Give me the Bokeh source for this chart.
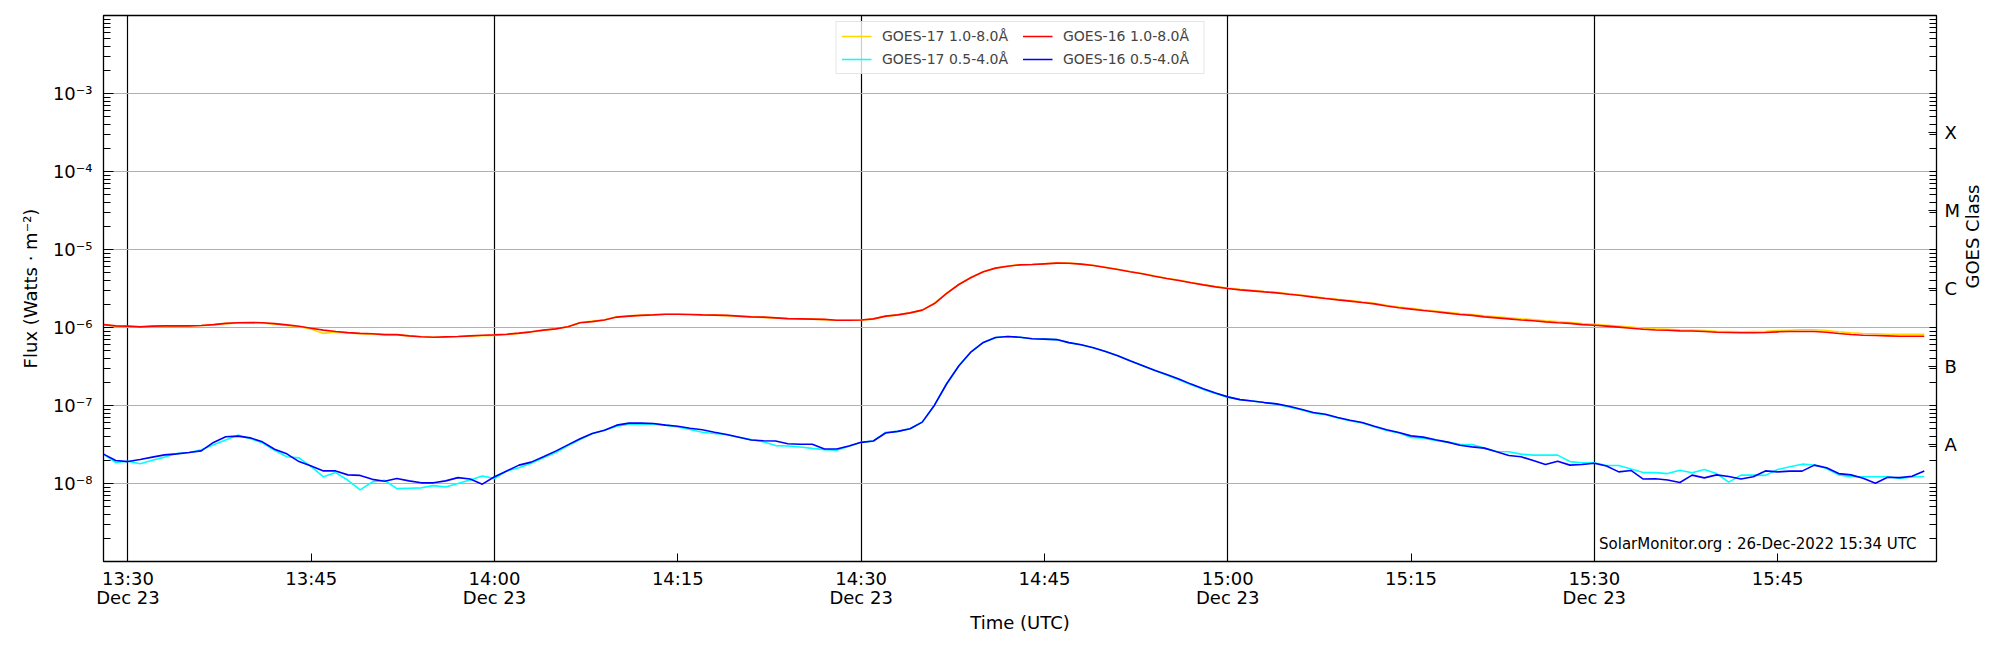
import numpy as np
import pandas as pd
from bokeh.plotting import figure
from bokeh.models import (Range1d, FixedTicker, CustomJSTickFormatter, LogAxis, Legend,
                          LegendItem, Label, ColumnDataSource)
from bokeh.embed import file_html
from bokeh.resources import INLINE

# ---------------- data (1-minute GOES XRS flux, 23 Dec 2022, 13:28 - 15:57 UTC) ----------------
start_time = "2022-12-23 13:28"
n_minutes = 150

# GOES-16 1.0-8.0 A, units of 1e-6 W/m^2
goes16_long_e6 = [
    1.09, 1.05,
    1.04, 1.02, 1.04, 1.05, 1.05, 1.05, 1.06, 1.09, 1.13, 1.15,
    1.16, 1.15, 1.12, 1.08, 1.04, 0.98, 0.925, 0.89, 0.86, 0.84,
    0.83, 0.81, 0.81, 0.78, 0.76, 0.75, 0.759, 0.767, 0.782, 0.797,
    0.805, 0.821, 0.846, 0.88, 0.925, 0.961, 1.02, 1.15, 1.19, 1.25,
    1.36, 1.40, 1.43, 1.45, 1.48, 1.48, 1.47, 1.45, 1.44, 1.43,
    1.40, 1.37, 1.36, 1.33, 1.30, 1.29, 1.28, 1.27, 1.24, 1.24,
    1.25, 1.29, 1.40, 1.45, 1.54, 1.67, 2.03, 2.73, 3.56, 4.38,
    5.18, 5.77, 6.11, 6.36, 6.42, 6.55, 6.68, 6.65, 6.49, 6.24,
    5.88, 5.54, 5.18, 4.88, 4.55, 4.25, 4.01, 3.74, 3.52, 3.32,
    3.16, 3.04, 2.95, 2.86, 2.78, 2.67, 2.57, 2.45, 2.35, 2.26,
    2.18, 2.09, 2.01, 1.89, 1.79, 1.72, 1.65, 1.59, 1.53, 1.47,
    1.43, 1.37, 1.33, 1.29, 1.25, 1.22, 1.18, 1.15, 1.13, 1.09,
    1.07, 1.04, 1.01, 0.98, 0.95, 0.93, 0.92, 0.906, 0.90, 0.89,
    0.871, 0.863, 0.855, 0.855, 0.863, 0.88, 0.89, 0.89, 0.89, 0.871,
    0.838, 0.813, 0.797, 0.79, 0.782, 0.774, 0.774, 0.774,
]

# GOES-17 1.0-8.0 A, units of 1e-6 W/m^2
goes17_long_e6 = [
    1.09, 1.04,
    1.03, 1.02, 1.03, 1.04, 1.04, 1.05, 1.06, 1.08, 1.12, 1.14,
    1.15, 1.14, 1.10, 1.06, 1.02, 0.96, 0.84, 0.87, 0.85, 0.83,
    0.82, 0.81, 0.80, 0.78, 0.76, 0.75, 0.757, 0.765, 0.775, 0.785,
    0.79, 0.81, 0.84, 0.875, 0.92, 0.955, 1.02, 1.16, 1.21, 1.26,
    1.37, 1.41, 1.44, 1.46, 1.48, 1.48, 1.47, 1.45, 1.44, 1.42,
    1.39, 1.37, 1.35, 1.33, 1.30, 1.29, 1.28, 1.26, 1.24, 1.24,
    1.25, 1.28, 1.39, 1.45, 1.54, 1.67, 2.05, 2.76, 3.60, 4.40,
    5.20, 5.80, 6.15, 6.38, 6.45, 6.58, 6.70, 6.68, 6.52, 6.28,
    5.92, 5.58, 5.22, 4.92, 4.59, 4.29, 4.05, 3.78, 3.56, 3.36,
    3.20, 3.08, 2.99, 2.90, 2.82, 2.71, 2.61, 2.49, 2.39, 2.30,
    2.22, 2.13, 2.05, 1.93, 1.83, 1.76, 1.69, 1.63, 1.57, 1.51,
    1.47, 1.41, 1.37, 1.33, 1.29, 1.26, 1.22, 1.19, 1.16, 1.12,
    1.10, 1.07, 1.04, 1.01, 0.98, 0.96, 0.95, 0.935, 0.925, 0.915,
    0.897, 0.89, 0.88, 0.89, 0.897, 0.915, 0.924, 0.934, 0.934, 0.915,
    0.88, 0.855, 0.838, 0.83, 0.821, 0.821, 0.821, 0.821,
]

# GOES-16 0.5-4.0 A, units of 1e-8 W/m^2
goes16_short_e8 = [
    2.38, 1.97,
    1.91, 2.03, 2.18, 2.33, 2.40, 2.50, 2.62, 3.36, 3.97, 4.05,
    3.85, 3.42, 2.75, 2.40, 1.91, 1.68, 1.45, 1.45, 1.29, 1.27,
    1.13, 1.07, 1.16, 1.08, 1.02, 1.02, 1.08, 1.19, 1.14, 0.98,
    1.22, 1.45, 1.72, 1.88, 2.20, 2.60, 3.13, 3.74, 4.38, 4.83,
    5.60, 5.94, 5.94, 5.88, 5.60, 5.43, 5.12, 4.88, 4.55, 4.25,
    3.92, 3.61, 3.54, 3.51, 3.24, 3.18, 3.18, 2.77, 2.77, 3.03,
    3.37, 3.51, 4.44, 4.66, 5.04, 6.12, 10.1, 19.0, 32.3, 48.8,
    64.3, 74.5, 76.7, 75.0, 71.6, 71.0, 70.0, 64.0, 60.0, 54.9,
    49.2, 43.3, 37.4, 32.6, 28.4, 25.0, 21.8, 18.8, 16.4, 14.5,
    12.9, 11.9, 11.4, 10.9, 10.5, 9.8, 8.97, 8.13, 7.74, 7.02,
    6.48, 6.05, 5.43, 4.88, 4.51, 4.08, 3.93, 3.63, 3.39, 3.10,
    2.95, 2.84, 2.55, 2.29, 2.20, 1.97, 1.75, 1.93, 1.72, 1.75,
    1.82, 1.68, 1.41, 1.47, 1.14, 1.15, 1.11, 1.03, 1.28, 1.18,
    1.29, 1.23, 1.14, 1.22, 1.45, 1.41, 1.44, 1.44, 1.72, 1.59,
    1.34, 1.29, 1.17, 1.01, 1.20, 1.19, 1.24, 1.45,
]

# GOES-17 0.5-4.0 A, units of 1e-8 W/m^2
goes17_short_e8 = [
    2.38, 1.86,
    1.93, 1.79, 1.99, 2.18, 2.43, 2.50, 2.70, 3.13, 3.60, 4.17,
    3.78, 3.32, 2.67, 2.20, 2.13, 1.64, 1.22, 1.38, 1.10, 0.83,
    1.05, 1.10, 0.86, 0.87, 0.88, 0.94, 0.90, 1.00, 1.11, 1.25,
    1.16, 1.45, 1.59, 1.82, 2.13, 2.50, 3.04, 3.66, 4.38, 4.83,
    5.43, 5.77, 5.77, 5.77, 5.60, 5.32, 4.92, 4.55, 4.38, 4.21,
    3.92, 3.65, 3.44, 3.06, 3.03, 2.94, 2.82, 2.72, 2.67, 3.00,
    3.37, 3.51, 4.52, 4.66, 5.04, 6.12, 10.1, 19.0, 32.3, 48.8,
    64.3, 74.5, 76.7, 75.0, 71.6, 71.0, 70.0, 64.0, 60.0, 54.9,
    49.2, 43.3, 37.4, 32.6, 28.4, 24.6, 21.4, 18.4, 16.1, 14.3,
    12.8, 11.9, 11.4, 10.9, 10.4, 9.6, 8.8, 7.95, 7.6, 6.9,
    6.4, 5.95, 5.35, 4.78, 4.46, 3.89, 3.81, 3.56, 3.39, 3.19,
    3.16, 2.84, 2.57, 2.55, 2.38, 2.31, 2.31, 2.31, 1.91, 1.84,
    1.84, 1.70, 1.70, 1.53, 1.38, 1.38, 1.34, 1.48, 1.37, 1.51,
    1.34, 1.04, 1.28, 1.28, 1.27, 1.51, 1.64, 1.77, 1.73, 1.56,
    1.29, 1.22, 1.22, 1.22, 1.22, 1.16, 1.21, 1.23,
]

series_labels = ["GOES-17 1.0-8.0\u00c5", "GOES-17 0.5-4.0\u00c5",
                 "GOES-16 1.0-8.0\u00c5", "GOES-16 0.5-4.0\u00c5"]
series_colors = ["#FFD700", "#00FFFF", "#FF0000", "#0000FF"]

y_decades = [1e-8, 1e-7, 1e-6, 1e-5, 1e-4, 1e-3]
goes_classes = ["A", "B", "C", "M", "X"]
goes_class_exponents = [-7.5, -6.5, -5.5, -4.5, -3.5]
annotation_text = "SolarMonitor.org : 26-Dec-2022 15:34 UTC"

# ---------------- build ----------------
times = pd.date_range(start_time, periods=n_minutes, freq="1min")
src = ColumnDataSource(dict(
    t=times,
    g17l=np.array(goes17_long_e6) * 1e-6,
    g17s=np.array(goes17_short_e8) * 1e-8,
    g16l=np.array(goes16_long_e6) * 1e-6,
    g16s=np.array(goes16_short_e8) * 1e-8,
))

FONT = "DejaVu Sans"
x_start = pd.Timestamp("2022-12-23 13:28")
x_end = pd.Timestamp("2022-12-23 15:58")

p = figure(width=1996, height=642, x_axis_type="datetime", y_axis_type="log",
           x_range=Range1d(x_start, x_end), y_range=Range1d(1e-9, 1e-2),
           output_backend="svg", toolbar_location=None,
           min_border_left=103, min_border_right=60, min_border_top=15, min_border_bottom=81)
p.background_fill_color = "white"
p.border_fill_color = "white"
p.outline_line_color = "black"
p.outline_line_width = 1.3

renderers = []
for col, color in zip(["g17l", "g17s", "g16l", "g16s"], series_colors):
    r = p.line("t", col, source=src, line_color=color, line_width=1.6)
    renderers.append(r)

# ticks
quarter_hours = pd.date_range("2022-12-23 13:30", "2022-12-23 15:45", freq="15min")
half_hours = pd.date_range("2022-12-23 13:30", "2022-12-23 15:30", freq="30min")
qh_ms = [t.value / 1e6 for t in quarter_hours]
hh_ms = [t.value / 1e6 for t in half_hours]

minor_log = [m * 10.0 ** e for e in range(-9, -2) for m in range(2, 10)]

xa = p.xaxis[0]
xa.ticker = FixedTicker(ticks=qh_ms, minor_ticks=[])
xa.formatter = CustomJSTickFormatter(code="""
const d = new Date(tick);
const hh = String(d.getUTCHours()).padStart(2, "0");
const mm = String(d.getUTCMinutes()).padStart(2, "0");
const mons = ["Jan","Feb","Mar","Apr","May","Jun","Jul","Aug","Sep","Oct","Nov","Dec"];
if (mm === "00" || mm === "30") {
  return hh + ":" + mm + "\\n" + mons[d.getUTCMonth()] + " " + d.getUTCDate();
}
return hh + ":" + mm;
""")
xa.axis_label = "Time (UTC)"
xa.major_tick_in = 8
xa.major_tick_out = 0
xa.minor_tick_in = 0
xa.minor_tick_out = 0
xa.major_label_standoff = 6
xa.axis_label_standoff = 1
xa.major_label_text_line_height = 0.95

ya = p.yaxis[0]
ya.ticker = FixedTicker(ticks=y_decades, minor_ticks=minor_log)
ya.formatter = CustomJSTickFormatter(code="""
const sup = {"-":"\\u207b","0":"\\u2070","1":"\\u00b9","2":"\\u00b2","3":"\\u00b3",
             "4":"\\u2074","5":"\\u2075","6":"\\u2076","7":"\\u2077","8":"\\u2078","9":"\\u2079"};
const e = Math.round(Math.log10(tick));
return "10" + String(e).split("").map(c => sup[c]).join("");
""")
ya.axis_label = "Flux (Watts \u00b7 m\u207b\u00b2)"
ya.major_tick_in = 10
ya.major_tick_out = 0
ya.minor_tick_in = 7
ya.minor_tick_out = 0
ya.major_label_standoff = 11
ya.axis_label_standoff = 9

ra = LogAxis(
    ticker=FixedTicker(ticks=[10.0 ** e for e in goes_class_exponents],
                       minor_ticks=minor_log + y_decades),
    formatter=CustomJSTickFormatter(args=dict(labels=goes_classes, exps=goes_class_exponents), code="""
const e = Math.log10(tick);
for (let i = 0; i < exps.length; i++) {
  if (Math.abs(exps[i] - e) < 0.01) return labels[i];
}
return "";
"""),
    axis_label="GOES Class",
)
ra.major_tick_in = 8
ra.major_tick_out = 0
ra.minor_tick_in = 7
ra.minor_tick_out = 0
ra.major_label_standoff = 8
ra.axis_label_standoff = 9
if "axis_label_orientation" in ra.properties():
    ra.axis_label_orientation = np.pi / 2
p.add_layout(ra, "right")

for ax in [xa, ya, ra]:
    ax.axis_line_color = "black"
    ax.major_tick_line_color = "black"
    ax.minor_tick_line_color = "black"
    ax.major_label_text_font = FONT
    ax.major_label_text_font_size = "18px"
    ax.major_label_text_color = "black"
    ax.axis_label_text_font = FONT
    ax.axis_label_text_font_size = "18px"
    ax.axis_label_text_font_style = "normal"
    ax.axis_label_text_color = "black"

# grids
p.xgrid.ticker = FixedTicker(ticks=hh_ms)
p.xgrid.grid_line_color = "black"
p.xgrid.grid_line_width = 1.2
p.ygrid.grid_line_color = "#b0b0b0"
p.ygrid.grid_line_width = 1.2

legend = Legend(items=[LegendItem(label=lab, renderers=[r]) for lab, r in zip(series_labels, renderers)],
                location="top_center", ncols=2, orientation="vertical")
legend.label_text_font = FONT
legend.label_text_font_size = "14px"
legend.glyph_width = 30
legend.glyph_height = 18
legend.label_standoff = 11
legend.label_width = 135
legend.spacing = 5
legend.padding = 5
legend.margin = 6
legend.border_line_color = "#cccccc"
legend.border_line_width = 1
legend.background_fill_alpha = 0.8
p.add_layout(legend, "center")

p.add_layout(Label(x=1813, y=18, x_units="screen", y_units="screen", text=annotation_text,
                   text_align="right", text_baseline="middle", text_font=FONT,
                   text_font_size="15px", text_color="black"))

open("out.html", "w").write(file_html(p, INLINE))
